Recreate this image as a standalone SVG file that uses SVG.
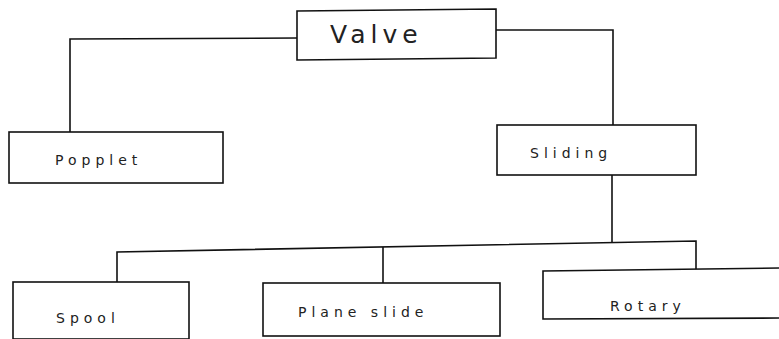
<svg xmlns="http://www.w3.org/2000/svg" width="779" height="339" viewBox="0 0 779 339">
<style>
.box{fill:#fff;stroke:#111;stroke-width:1.6}
.lbl{font-family:"DejaVu Sans",Verdana,sans-serif;font-size:14px;letter-spacing:5px;fill:#222}
.title{font-family:"DejaVu Sans",Verdana,sans-serif;font-size:25px;letter-spacing:5px;fill:#222}
#connectors path{fill:none;stroke:#111;stroke-width:1.6}
</style>
<rect width="779" height="339" fill="#fff"/>
<g id="connectors">
<path d="M297,38 L70,39 L70,132"/>
<path d="M496,30 L613,30 L613,125"/>
<path d="M612,175 L612,242"/>
<path d="M117,282 L117,252 L696,241 L696,270"/>
<path d="M383,247 L383,283"/>
</g>
<g id="valve">
<path class="box" d="M297,11 L496,9 L496,58 L297,60 Z"/>
<text class="title" x="330" y="43">Valve</text>
</g>
<g id="popplet">
<rect class="box" x="9" y="132" width="214" height="51"/>
<text class="lbl" x="55" y="165">Popplet</text>
</g>
<g id="sliding">
<rect class="box" x="497" y="125" width="199" height="50"/>
<text class="lbl" x="530" y="158">Sliding</text>
</g>
<g id="spool">
<rect class="box" x="13" y="282" width="176" height="57"/>
<text class="lbl" x="56" y="323">Spool</text>
</g>
<g id="plane-slide">
<rect class="box" x="263" y="283" width="237" height="53"/>
<text class="lbl" x="298" y="317">Plane slide</text>
</g>
<g id="rotary">
<path class="box" d="M543,271 L785,268 L785,318 L543,319 Z"/>
<text class="lbl" x="610" y="311">Rotary</text>
</g>
</svg>
